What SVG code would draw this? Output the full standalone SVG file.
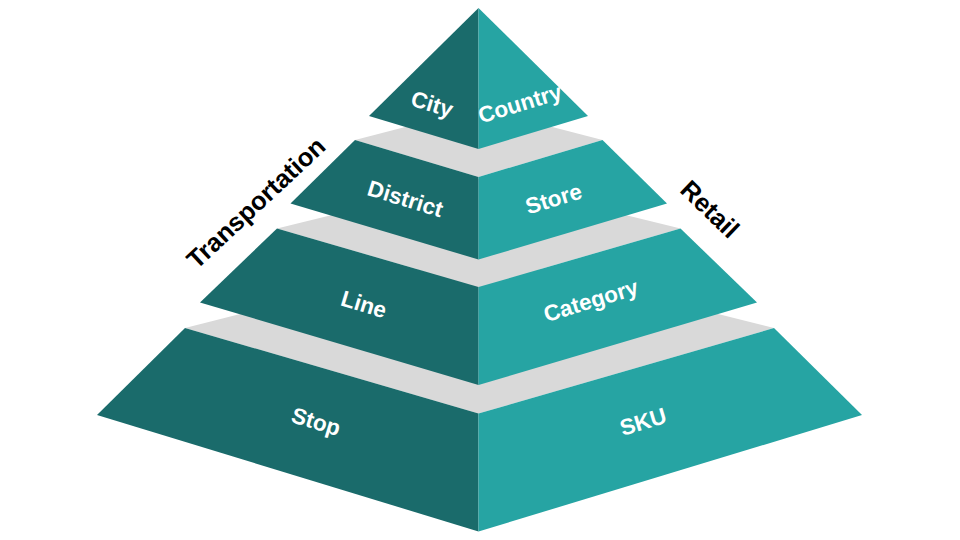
<svg xmlns="http://www.w3.org/2000/svg" width="960" height="540" viewBox="0 0 960 540">
  <style>
    .dark { fill: #1a6b6b; }
    .light { fill: #26a4a3; }
    .top { fill: #d9d9d9; }
    .lbl { font-family: "Liberation Sans", Arial, sans-serif; font-weight: bold; font-size: 22.5px; fill: #ffffff; text-anchor: middle; }
    .side { font-family: "Liberation Sans", Arial, sans-serif; font-weight: bold; font-size: 25.5px; fill: #000000; text-anchor: middle; }
  </style>
  <rect x="0" y="0" width="960" height="540" fill="#ffffff"/>

  <g id="tier4">
    <polygon class="top" points="185,328 478.5,254 774,328 478.5,413.5"/>
    <polygon class="dark" points="185,328 478.5,413.5 478.5,531.5 97,415"/>
    <polygon class="light" points="774,328 478.5,413.5 478.5,531.5 862,415"/>
    <text class="lbl" transform="translate(315.5,423.5) rotate(17)" y="5.7">Stop</text>
    <text class="lbl" transform="translate(643,421.5) rotate(-17)" y="8">SKU</text>
  </g>

  <g id="tier3">
    <polygon class="top" points="277,228.5 478.5,179 680.5,228.5 478.5,287"/>
    <polygon class="dark" points="277,228.5 478.5,287 478.5,385 200,302.5"/>
    <polygon class="light" points="680.5,228.5 478.5,287 478.5,385 757,302.5"/>
    <text class="lbl" transform="translate(364,304) rotate(17)" y="8">Line</text>
    <text class="lbl" transform="translate(591.5,302.5) rotate(-17)" y="5.7">Category</text>
  </g>

  <g id="tier2">
    <polygon class="top" points="355,140 478.5,108 602.5,140 478.5,177"/>
    <polygon class="dark" points="355,140 478.5,177 478.5,259.5 290.5,203.5"/>
    <polygon class="light" points="602.5,140 478.5,177 478.5,259.5 667,203.5"/>
    <text class="lbl" transform="translate(405.5,198.5) rotate(17)" y="8">District</text>
    <text class="lbl" transform="translate(553.5,198.5) rotate(-17)" y="8">Store</text>
  </g>

  <g id="tier1">
    <polygon class="dark" points="478.5,8 369,116 478.5,149"/>
    <polygon class="light" points="478.5,8 588,116 478.5,149"/>
    <text class="lbl" transform="translate(431.5,106) rotate(17)" y="5.7">City</text>
    <text class="lbl" transform="translate(520.5,105.5) rotate(-17)" y="5.7">Country</text>
  </g>

  <g id="label-transportation">
    <text class="side" transform="translate(257.5,204.5) rotate(-43)" y="6.5">Transportation</text>
  </g>
  <g id="label-retail">
    <text class="side" transform="translate(710,209) rotate(44)" y="9">Retail</text>
  </g>
</svg>
